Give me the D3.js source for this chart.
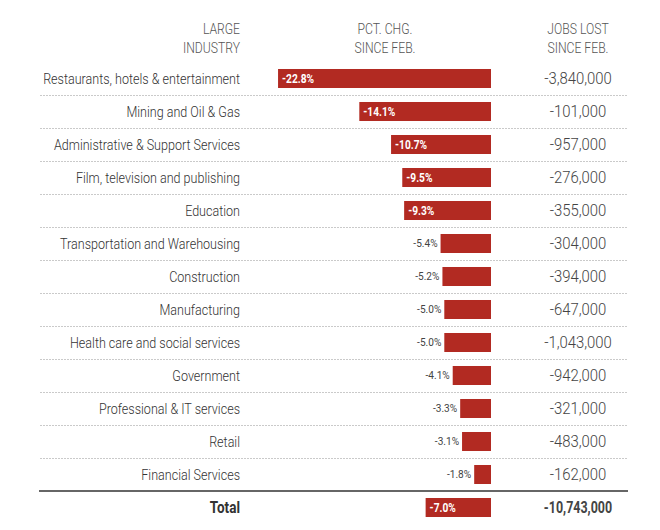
<!DOCTYPE html>
<html lang="en">
<head>
    <meta charset="UTF-8">
    <title>Jobs lost by industry</title>
    <style>
        body{
            margin:0;
            background:#fff;
        }
        text{
            font-family:Roboto,"Liberation Sans",sans-serif;
        }
    </style>
    <script src="https://cdn.jsdelivr.net/npm/d3@7/dist/d3.min.js"></script>
</head>
<body>
<div id='container'></div>
<script>
    var industries = [
        'Restaurants, hotels & entertainment',
        'Mining and Oil & Gas',
        'Administrative & Support Services',
        'Film, television and publishing',
        'Education',
        'Transportation and Warehousing',
        'Construction',
        'Manufacturing',
        'Health care and social services',
        'Government',
        'Professional & IT services',
        'Retail',
        'Financial Services',
        'Total'
    ];
    var pctChange = [-22.8, -14.1, -10.7, -9.5, -9.3, -5.4, -5.2, -5.0, -5.0, -4.1, -3.3, -3.1, -1.8, -7.0];
    var jobsLost = [-3840000, -101000, -957000, -276000, -355000, -304000, -394000, -647000,
        -1043000, -942000, -321000, -483000, -162000, -10743000];
    var headers = [['LARGE', 'INDUSTRY'], ['PCT. CHG.', 'SINCE FEB.'], ['JOBS LOST', 'SINCE FEB.']];

    var w = 660, h = 530, red = '#b22a22';
    var rows = industries.map(function (d, i) {
        return {name: d, pct: pctChange[i], jobs: jobsLost[i], total: d === 'Total'};
    });

    var x = d3.scaleLinear().domain([-25, 0]).range([257.5, 491]),
        y = d3.scaleBand().domain(industries).range([62, 62 + 33 * industries.length])
            .paddingInner(0.424).paddingOuter(0.212),
        step = y.step(),
        labelX = 240, jobsX = 578, pctX = 385;

    var fmtPct = function (v) { return d3.format('.1f')(v).replace('−', '-') + '%'; },
        fmtJobs = function (v) { return d3.format(',')(v).replace('−', '-'); };

    // condensed look: squeeze text horizontally around its anchor point
    var squeeze = function (tx, ty, s) {
        return 'translate(' + tx + ',' + ty + ') scale(' + s + ',1)';
    };

    var svg = d3.select('#container').append('svg').attr('width', w).attr('height', h);

    // column heads
    var headX = [labelX, pctX, jobsX], headAnchor = ['end', 'middle', 'middle'];
    headers.forEach(function (lines, i) {
        lines.forEach(function (l, j) {
            svg.append('text')
                .attr('transform', squeeze(headX[i], 34 + j * 19, 0.84))
                .attr('text-anchor', headAnchor[i]).attr('fill', '#555')
                .attr('font-size', '14.5px').attr('font-weight', 300)
                .text(l);
        });
    });

    // dotted row rules
    svg.selectAll('line.rule').data(industries.slice(0, industries.length - 2)).enter().append('line')
        .attr('class', 'rule')
        .attr('x1', 40).attr('x2', 628)
        .attr('y1', function (d) { return y(d) - y.paddingOuter() * step + step + 0.5; })
        .attr('y2', function (d) { return y(d) - y.paddingOuter() * step + step + 0.5; })
        .attr('stroke', '#cacaca').attr('stroke-width', 1).attr('stroke-dasharray', '2,1');

    // solid rule above total
    var totalTop = y('Total') - y.paddingOuter() * step;
    svg.append('line').attr('x1', 39).attr('x2', 628)
        .attr('y1', totalTop).attr('y2', totalTop)
        .attr('stroke', '#333').attr('stroke-width', 1.5);

    var g = svg.selectAll('g.row').data(rows).enter().append('g').attr('class', 'row')
        .attr('transform', function (d) { return 'translate(0,' + y(d.name) + ')'; });

    var mid = y.bandwidth() / 2;

    g.append('text')
        .attr('transform', function (d) { return squeeze(labelX, mid, d.total ? 0.82 : 0.81); })
        .attr('dy', '0.36em')
        .attr('text-anchor', 'end')
        .attr('fill', '#333')
        .attr('font-size', function (d) { return d.total ? '16.5px' : '15.5px'; })
        .attr('font-weight', function (d) { return d.total ? 'bold' : 300; })
        .text(function (d) { return d.name; });

    g.append('rect')
        .attr('x', function (d) { return x(d.pct); })
        .attr('width', function (d) { return x(0) - x(d.pct); })
        .attr('height', y.bandwidth())
        .attr('fill', red);

    // pct labels: inside the bar when wide, outside otherwise
    g.append('text')
        .attr('transform', function (d) {
            return d.pct <= -7 ? squeeze(x(d.pct) + 4, mid, 0.85) : squeeze(x(d.pct) - 3, mid, 0.92);
        })
        .attr('dy', '0.36em')
        .attr('text-anchor', function (d) { return d.pct <= -7 ? 'start' : 'end'; })
        .attr('fill', function (d) { return d.pct <= -7 ? '#fff' : '#444'; })
        .attr('font-weight', function (d) { return d.pct <= -7 ? 'bold' : 400; })
        .attr('font-size', function (d) { return d.pct <= -7 ? '12px' : '11px'; })
        .text(function (d) { return fmtPct(d.pct); });

    g.append('text')
        .attr('transform', function (d) { return squeeze(jobsX, mid, d.total ? 0.78 : 0.93); })
        .attr('dy', '0.36em')
        .attr('text-anchor', 'middle')
        .attr('fill', '#444')
        .attr('font-size', function (d) { return d.total ? '16px' : '16px'; })
        .attr('font-weight', function (d) { return d.total ? 'bold' : 300; })
        .text(function (d) { return fmtJobs(d.jobs); });
</script>
</body>
</html>
